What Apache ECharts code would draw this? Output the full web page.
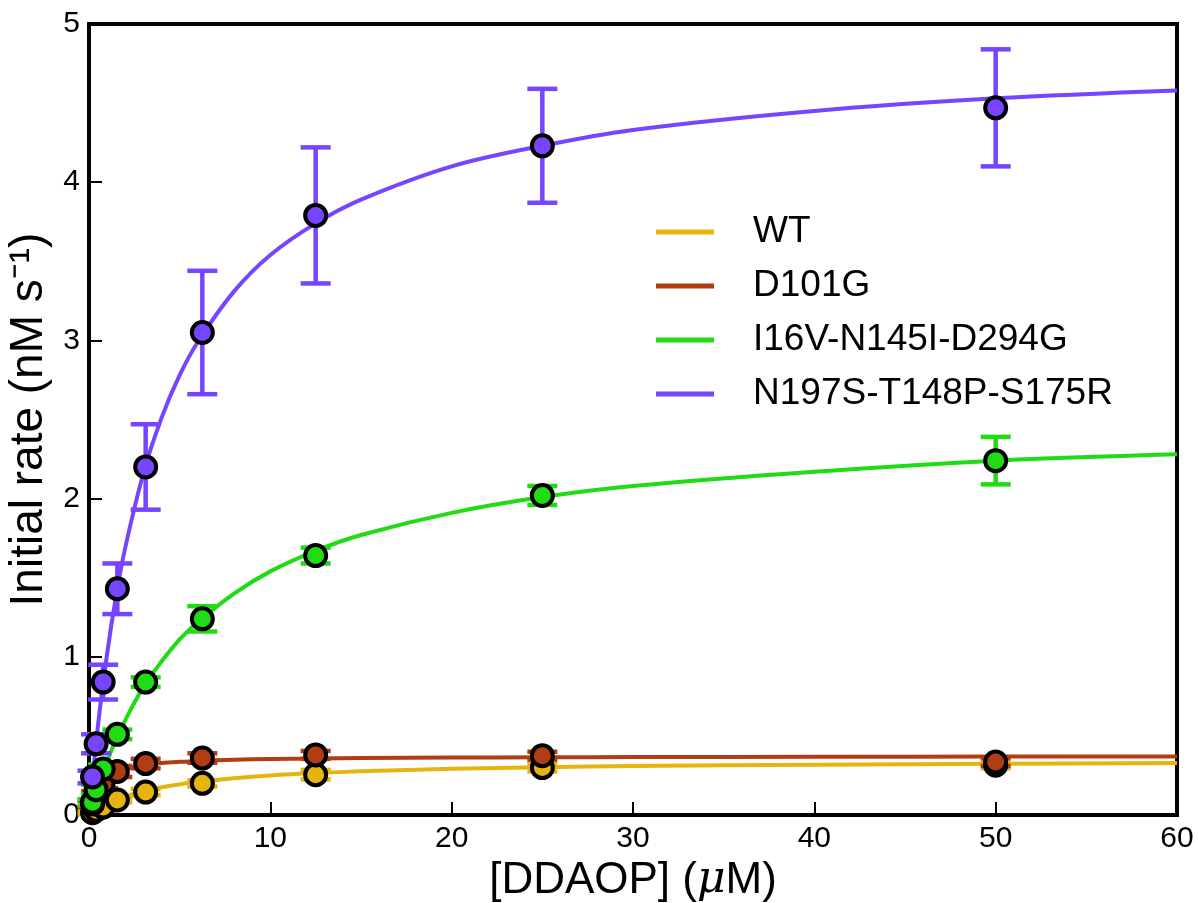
<!DOCTYPE html>
<html>
<head>
<meta charset="utf-8">
<script src="https://cdn.jsdelivr.net/npm/echarts@6/dist/echarts.min.js"></script>
<style>
html,body{margin:0;padding:0;background:#fff;}
#chart{width:1198px;height:903px;}
</style>
</head>
<body>
<div id="chart"></div>
<script>
// ---- data ----
var seriesNames = ['WT', 'D101G', 'I16V-N145I-D294G', 'N197S-T148P-S175R'];
var colors = ['#e6b40f', '#b23c14', '#1fdc14', '#7744ff'];

var concX = [0.195, 0.39, 0.78, 1.5625, 3.125, 6.25, 12.5, 25, 50];

var wtY   = [0.015, 0.03, 0.05, 0.095, 0.145, 0.20, 0.255, 0.30, 0.315];
var wtErr = [0.01, 0.01, 0.01, 0.015, 0.02, 0.02, 0.03, 0.025, 0.02];

var d101Y   = [0.07, 0.13, 0.20, 0.275, 0.325, 0.36, 0.38, 0.375, 0.335];
var d101Err = [0.02, 0.02, 0.03, 0.035, 0.03, 0.03, 0.025, 0.025, 0.025];

var triY   = [0.08, 0.16, 0.29, 0.51, 0.84, 1.24, 1.64, 2.02, 2.24];
var triErr = [0.02, 0.03, 0.03, 0.03, 0.03, 0.08, 0.05, 0.06, 0.15];

var nY   = [0.24, 0.45, 0.84, 1.43, 2.20, 3.05, 3.79, 4.23, 4.47];
var nErr = [0.04, 0.06, 0.11, 0.16, 0.27, 0.39, 0.43, 0.36, 0.37];

// fitted curves
var curveX = [0, 0.5, 1, 1.5, 2, 3, 4, 5, 6, 8, 10, 12.5, 15, 20, 25, 30, 40, 50, 60];
var wtCurve   = [0, 0.039, 0.07, 0.095, 0.117, 0.15, 0.175, 0.194, 0.21, 0.233, 0.25, 0.265, 0.276, 0.292, 0.302, 0.309, 0.318, 0.324, 0.328];
var d101Curve = [0, 0.178, 0.24, 0.273, 0.293, 0.315, 0.328, 0.336, 0.342, 0.349, 0.354, 0.357, 0.36, 0.363, 0.365, 0.366, 0.368, 0.369, 0.37];
var triCurve  = [0, 0.18, 0.34, 0.48, 0.60, 0.81, 0.97, 1.11, 1.22, 1.40, 1.54, 1.67, 1.77, 1.91, 2.01, 2.08, 2.17, 2.24, 2.28];
var nCurve    = [0, 0.57, 1.02, 1.39, 1.69, 2.16, 2.51, 2.78, 2.99, 3.31, 3.54, 3.74, 3.89, 4.10, 4.23, 4.33, 4.45, 4.53, 4.58];

var xTicks = [0, 10, 20, 30, 40, 50, 60];
var yTicks = [0, 1, 2, 3, 4, 5];

var pointsY = [wtY, d101Y, triY, nY];
var errs = [wtErr, d101Err, triErr, nErr];
var curves = [wtCurve, d101Curve, triCurve, nCurve];

function zip(xs, ys) { return xs.map(function (x, i) { return [x, ys[i]]; }); }

var chart = echarts.init(document.getElementById('chart'), null, {renderer: 'canvas'});
var font = 'Liberation Sans, Arial, Helvetica, sans-serif';

var series = [];
// curves
seriesNames.forEach(function (name, k) {
  series.push({
    name: name, type: 'line', smooth: 0.35, showSymbol: false, symbol: 'none',
    data: zip(curveX, curves[k]),
    lineStyle: {color: colors[k], width: 4},
    itemStyle: {color: colors[k]},
    z: 2, animation: false, silent: true
  });
});
// error bars
seriesNames.forEach(function (name, k) {
  series.push({
    name: name + ' err', type: 'custom',
    data: concX.map(function (x, i) { return [x, pointsY[k][i], errs[k][i]]; }),
    renderItem: function (params, api) {
      var x = api.value(0), y = api.value(1), e = api.value(2);
      var top = api.coord([x, y + e]);
      var bot = api.coord([x, y - e]);
      var hw = 15;
      var st = {stroke: colors[k], lineWidth: 4.5};
      return {type: 'group', children: [
        {type: 'line', shape: {x1: top[0], y1: top[1], x2: bot[0], y2: bot[1]}, style: st},
        {type: 'line', shape: {x1: top[0] - hw, y1: top[1], x2: top[0] + hw, y2: top[1]}, style: st},
        {type: 'line', shape: {x1: bot[0] - hw, y1: bot[1], x2: bot[0] + hw, y2: bot[1]}, style: st}
      ]};
    },
    encode: {x: 0, y: 1},
    z: 3, animation: false, silent: true
  });
});
// markers
seriesNames.forEach(function (name, k) {
  series.push({
    name: name + ' pts', type: 'scatter',
    data: zip(concX, pointsY[k]),
    symbol: 'circle', symbolSize: 21,
    itemStyle: {color: colors[k], borderColor: '#000', borderWidth: 4, opacity: 1},
    z: 4, animation: false, silent: true
  });
});

chart.setOption({
  backgroundColor: '#fff',
  animation: false,
  grid: {left: 89, right: 21, top: 24, bottom: 88, containLabel: false, outerBoundsMode: 'none',
    show: true, borderColor: '#000', borderWidth: 4, backgroundColor: 'transparent'},
  legend: {
    data: seriesNames.map(function (n) { return {name: n, icon: 'rect'}; }),
    orient: 'vertical', left: 656, top: 212, padding: 0,
    itemWidth: 58, itemHeight: 5, itemGap: 14,
    textStyle: {fontSize: 37, color: '#000', fontFamily: font, padding: [0, 0, 0, 34], lineHeight: 40},
    selectedMode: false
  },
  xAxis: {
    type: 'value', min: 0, max: 60, interval: 10,
    name: '{n|[DDAOP] (}{i|μ}{n|M)}', nameLocation: 'middle', nameGap: 43,
    nameTextStyle: {rich: {n: {fontSize: 44, fontFamily: font, color: '#000'}, i: {fontSize: 44, fontFamily: 'DejaVu Serif, serif', fontStyle: 'italic', color: '#000'}}},
    axisLine: {show: true, lineStyle: {color: '#000', width: 4}},
    axisTick: {show: true, inside: true, length: 13, lineStyle: {color: '#000', width: 2}},
    axisLabel: {fontSize: 30, color: '#000', fontFamily: font, margin: 9,
      formatter: function (v) { return xTicks.indexOf(v) >= 0 ? String(v) : ''; }},
    splitLine: {show: false}
  },
  yAxis: {
    type: 'value', min: 0, max: 5, interval: 1,
    name: 'Initial rate (nM s⁻¹)', nameLocation: 'middle', nameGap: 34,
    nameTextStyle: {fontSize: 46, fontFamily: font, color: '#000'},
    axisLine: {show: true, lineStyle: {color: '#000', width: 4}},
    axisTick: {show: true, inside: true, length: 13, lineStyle: {color: '#000', width: 2}},
    axisLabel: {fontSize: 30, color: '#000', fontFamily: font, margin: 9,
      formatter: function (v) { return yTicks.indexOf(v) >= 0 ? String(v) : ''; }},
    splitLine: {show: false}
  },
  series: series
});
</script>
</body>
</html>
